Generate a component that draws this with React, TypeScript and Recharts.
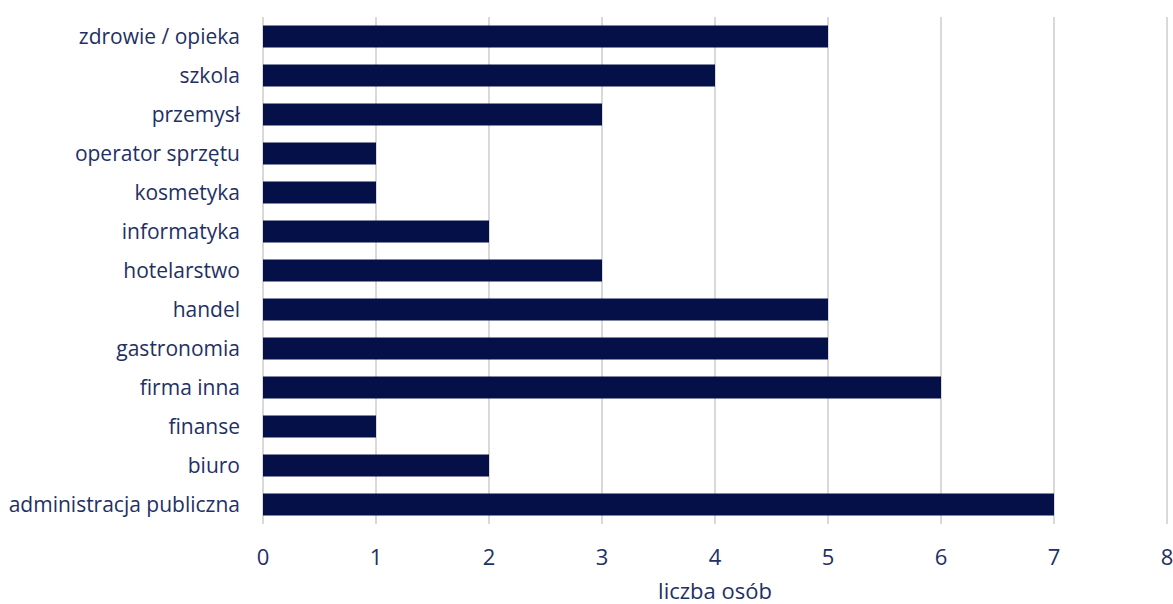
import React from 'react';
import { BarChart, Bar, XAxis, YAxis, CartesianGrid, Label } from 'recharts';

const categories = [
  'zdrowie / opieka',
  'szkola',
  'przemysł',
  'operator sprzętu',
  'kosmetyka',
  'informatyka',
  'hotelarstwo',
  'handel',
  'gastronomia',
  'firma inna',
  'finanse',
  'biuro',
  'administracja publiczna',
];
const values = [5, 4, 3, 1, 1, 2, 3, 5, 5, 6, 1, 2, 7];
const xTicks = [0, 1, 2, 3, 4, 5, 6, 7, 8];

const data = categories.map((name, i) => ({ name, value: values[i] }));

const TEXT = '#1f3064';
const FONT = 'Open Sans';

export default function App() {
  return (
    <div style={{ position: 'absolute', left: 0, top: 0, background: '#fff' }}>
      <BarChart
        width={1173}
        height={604}
        data={data}
        layout="vertical"
        margin={{ top: 17, right: 6, bottom: 0, left: 0 }}
        barCategoryGap="22%"
      >
        <CartesianGrid horizontal={false} stroke="#d9d9d9" strokeWidth={2} />
        <XAxis
          type="number"
          domain={[0, 8]}
          ticks={xTicks}
          interval={0}
          axisLine={false}
          tickLine={false}
          tickMargin={19}
          height={80}
          tick={{ fill: TEXT, fontSize: 22, fontFamily: FONT }}
        >
          <Label
            value="liczba osób"
            position="insideBottom"
            offset={5}
            style={{ fill: TEXT, fontSize: 22, fontFamily: FONT }}
          />
        </XAxis>
        <YAxis
          type="category"
          dataKey="name"
          width={263}
          axisLine={false}
          tickLine={false}
          tickMargin={17}
          interval={0}
          tick={{ fill: TEXT, fontSize: 21, fontFamily: FONT }}
        />
        <Bar dataKey="value" fill="#061048" isAnimationActive={false} />
      </BarChart>
    </div>
  );
}
